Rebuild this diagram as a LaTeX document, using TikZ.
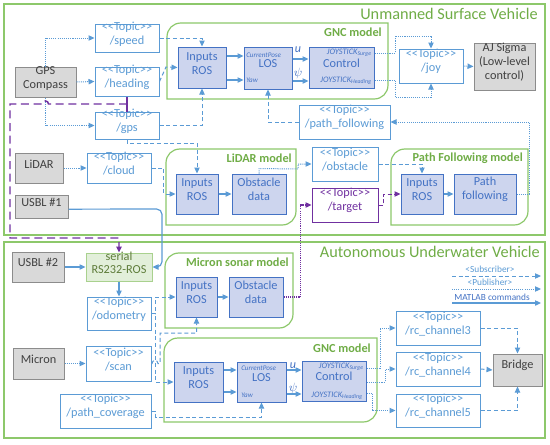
\documentclass[tikz,border=0pt]{standalone}
\usepackage{fontspec}
\setmainfont{Carlito}[Ligatures=TeXOff]
\usetikzlibrary{arrows.meta,fit}
\definecolor{lblue}{HTML}{5B9BD5}
\definecolor{pblue}{HTML}{4472C4}
\definecolor{pfill}{HTML}{CDD5EE}
\definecolor{gfill}{HTML}{D9D9D9}
\definecolor{gline}{HTML}{8C8C8C}
\definecolor{gtext}{HTML}{404040}
\definecolor{fgreen}{HTML}{8DC86B}
\definecolor{tgreen}{HTML}{70AD47}
\definecolor{sfill}{HTML}{E2EFDA}
\definecolor{sline}{HTML}{A9D18E}
\definecolor{stext}{HTML}{5E7C3A}
\definecolor{purp}{HTML}{7030A0}
\newcommand\rdframe[4]{\draw[mframe] (#1,#4) -- (#1,{#2+14}) .. controls (#1,{#2+6}) and ({#1+6},#2) .. ({#1+14},#2) -- (#3,#2) -- (#3,{#4-14}) .. controls (#3,{#4-6}) and ({#3-6},#4) .. ({#3-14},#4) -- cycle;}
\tikzset{
  mainfont/.style={font=\fontsize{9.2}{10.5}\selectfont},
  bx/.style={inner sep=0pt, align=center, line width=0.75pt, mainfont},
  topic/.style={bx, draw=lblue, fill=white, text=lblue},
  ptopic/.style={bx, draw=purp, fill=white, text=purp},
  proc/.style={bx, draw=pblue, fill=pfill, text=pblue},
  dev/.style={bx, draw=gline, fill=gfill, text=gtext},
  serialbox/.style={bx, draw=sline, fill=sfill, text=stext, font=\fontsize{9.2}{9.8}\selectfont},
  oframe/.style={draw=fgreen, line width=0.9pt},
  mframe/.style={draw=fgreen, line width=0.9pt},
  ttl/.style={inner sep=0pt, text=tgreen, font=\fontsize{12.2}{14}\selectfont},
  mttl/.style={inner sep=0pt, text=tgreen, font=\bfseries\fontsize{9.2}{11}\selectfont},
  jlab/.style={inner sep=0pt, text=pblue, font=\itshape\fontsize{6.3}{7}\selectfont},
  slab/.style={inner sep=0pt, text=pblue, font=\itshape\fontsize{5.3}{6}\selectfont},
  vlab/.style={inner sep=0pt, text=pblue, font=\itshape\fontsize{9}{10}\selectfont},
  leg/.style={inner sep=0pt, text=lblue, font=\fontsize{7}{8}\selectfont},
  arr/.style={-{Triangle[length=4.5pt,width=4pt]}},
  sub/.style={draw=lblue, line width=0.75pt, dash pattern=on 3pt off 2pt, arr},
  pub/.style={draw=lblue, line width=0.75pt, dash pattern=on 0.8pt off 0.8pt, arr},
  cmd/.style={draw=lblue, line width=0.9pt, arr},
  psub/.style={sub, draw=purp},
  ppub/.style={pub, draw=purp, line width=0.9pt},
  pdash/.style={draw=purp, line width=1.1pt, dash pattern=on 6pt off 3.5pt, arr},
}
\begin{document}
\begin{tikzpicture}[x=0.75pt,y=-0.75pt]
\fill[white] (0,0) rectangle (550,444);
\useasboundingbox (0,0) rectangle (550,444);

% frames
\draw[oframe] (4,4) rectangle (545,235);
\draw[oframe] (4,242) rectangle (545,438);
\rdframe{167}{23}{388}{99}
\rdframe{166}{149}{296}{225}
\rdframe{391}{149}{528}{225}
\rdframe{165}{253}{293}{328}
\rdframe{164}{338}{377}{422}

% titles
\node[ttl, anchor=east] (usvt) at (538,14) {Unmanned Surface Vehicle};
\node[ttl, anchor=east] (auvt) at (540,252) {Autonomous Underwater Vehicle};
\node[mttl, anchor=east] (gnc1t) at (382,32) {GNC model};
\node[mttl, anchor=east] (lidt) at (292,158) {LiDAR model};
\node[mttl, anchor=east] (pft) at (523,158) {Path Following model};
\node[mttl, anchor=east] (mict) at (289,262) {Micron sonar model};
\node[mttl, anchor=east] (gnc2t) at (371,348) {GNC model};

% USV nodes
\node[dev, fit={(15,67)(76,97)}] (gpsc) {GPS\\Compass};
\node[topic, fit={(95,24)(159,52)}] (speed) {<<Topic>>\\/speed};
\node[topic, fit={(95,67)(159,96)}] (heading) {<<Topic>>\\/heading};
\node[topic, fit={(95,112)(159,139)}] (gps) {<<Topic>>\\/gps};
\node[proc, fit={(178,47)(226,88)}] (in1) {Inputs\\ROS};
\node[proc, fit={(244,47)(292,89)}] (los1) {LOS};
\node[proc, fit={(309,47)(374,88)}] (ctl1) {Control};
\node[topic, fit={(399,49)(463,83)}] (joy) {<<Topic>>\\/joy};
\node[dev, fit={(474,43)(535,90)}] (ajs) {AJ Sigma\\(Low-level\\control)};
\node[topic, fit={(299,105)(390,139)}] (pathf) {<<Topic>>\\/path\_following};
\node[dev, fit={(15,153)(63,183)}] (lidar) {LiDAR};
\node[topic, fit={(87,153)(151,183)}] (cloud) {<<Topic>>\\/cloud};
\node[dev, fit={(15,195)(68,218)}] (usbl1) {USBL \#1};
\node[proc, fit={(176,174)(218,214)}] (in2) {Inputs\\ROS};
\node[proc, fit={(232,174)(286,214)}] (obs2) {Obstacle\\data};
\node[topic, fit={(312,147)(378,181)}] (obstacle) {<<Topic>>\\/obstacle};
\node[ptopic, fit={(312,188)(378,222)}] (target) {<<Topic>>\\/target};
\node[proc, fit={(401,174)(443,214)}] (in3) {Inputs\\ROS};
\node[proc, fit={(454,174)(516,214)}] (pfol) {Path\\following};

% LOS / control labels USV
\node[slab, anchor=west] (l1cp) at (246,55) {CurrentPose};
\node[slab, anchor=west] (l1yw) at (246,80) {Yaw};
\node[jlab, anchor=east] (c1s) at (372,53) {JOYSTICK\textsubscript{Surge}};
\node[jlab, anchor=east] (c1h) at (372,81) {JOYSTICK\textsubscript{Heading}};
\node[vlab] (u1) at (298,50) {u};
\node[vlab] (p1) at (298,73) {$\psi$};

% AUV nodes
\node[dev, fit={(12,252)(64,282)}] (usbl2) {USBL \#2};
\node[serialbox, fit={(86,253)(152,281)}] (serial) {serial\\RS232-ROS};
\node[topic, fit={(87,297)(151,330)}] (odom) {<<Topic>>\\/odometry};
\node[proc, fit={(176,277)(217,317)}] (in4) {Inputs\\ROS};
\node[proc, fit={(229,277)(283,317)}] (obs4) {Obstacle\\data};
\node[dev, fit={(13,348)(64,379)}] (micron) {Micron};
\node[topic, fit={(86,346)(151,381)}] (scan) {<<Topic>>\\/scan};
\node[topic, fit={(60,394)(151,428)}] (pcov) {<<Topic>>\\/path\_coverage};
\node[proc, fit={(174,362)(223,402)}] (in5) {Inputs\\ROS};
\node[proc, fit={(237,362)(286,402)}] (los5) {LOS};
\node[proc, fit={(302,361)(366,401)}] (ctl5) {Control};
\node[topic, fit={(396,311)(480,345)}] (rc3) {<<Topic>>\\/rc\_channel3};
\node[topic, fit={(396,352)(480,386)}] (rc4) {<<Topic>>\\/rc\_channel4};
\node[topic, fit={(396,394)(480,427)}] (rc5) {<<Topic>>\\/rc\_channel5};
\node[dev, fit={(493,354)(542,386)}] (bridge) {Bridge};

% LOS / control labels AUV
\node[slab, anchor=west] (l5cp) at (241,368.5) {CurrentPose};
\node[slab, anchor=west] (l5yw) at (241,395) {Yaw};
\node[jlab, anchor=east] (c5s) at (364,367) {JOYSTICK\textsubscript{Surge}};
\node[jlab, anchor=east] (c5h) at (363,396) {JOYSTICK\textsubscript{Heading}};
\node[vlab] (u5) at (293,366) {u};
\node[vlab] (p5) at (293,388) {$\psi$};

% legend
\node[leg] (lg1) at (490,269) {<Subscriber>};
\node[leg] (lg2) at (490,282) {<Publisher>};
\node[leg, text=pblue] (lg3) at (492,297) {MATLAB commands};
\coordinate (la1) at (452,276); \coordinate (lb1) at (541,276);
\coordinate (la2) at (452,289); \coordinate (lb2) at (541,289);
\coordinate (la3) at (452,303); \coordinate (lb3) at (541,303);
\draw[sub] (la1) -- (lb1);
\draw[pub] (la2) -- (lb2);
\draw[cmd] (la3) -- (lb3);

% USV connectors
\draw[pub] (gpsc.north) |- (speed.west);
\draw[pub] (gpsc.east) -- (heading.west);
\draw[pub] (gpsc.south) |- (gps.west);
\draw[sub] (speed.east) -| (in1.north);
\draw[sub] (heading.east) -- (166,67) -- (in1.west);
\draw[sub] (gps.east) -| (in1.south);
\draw[cmd] (in1.east |- 0,56) -- (los1.west |- 0,56);
\draw[cmd] (in1.east |- 0,80) -- (los1.west |- 0,80);
\draw[cmd] (los1.east |- 0,59) -- (ctl1.west |- 0,59);
\draw[cmd] (los1.east |- 0,81) -- (ctl1.west |- 0,81);
\draw[pub] (ctl1.east |- 0,53) -- (395,53) |- (joy.north |- 0,36) -- (joy.north);
\draw[pub] (ctl1.east |- 0,80) -- (395,80) |- (joy.south |- 0,97) -- (joy.south);
\draw[pub] (joy.east) -- (ajs.west);
\draw[sub] (gps.south) |- (in2.north |- 0,143) -- (in2.north);
\draw[pub] (lidar.east) -- (cloud.west);
\draw[sub] (cloud.east) -- ++(12,0) |- (in2.west);
\draw[cmd] (in2) -- (obs2);
\draw[pub] (obs2.north) -- ++(0,-5) -- (298,169) |- (obstacle.west);
\draw[sub] (obstacle.east) -| (in3.north);
\draw[psub] (target.east) -- ++(5,0) |- (in3.west);
\draw[cmd] (in3) -- (pfol);
\draw[pub] (pfol.east) -- ++(13,0) |- (pathf.east);
\draw[sub] (pathf.west) -| (los1.south);
\draw[cmd, rounded corners=4pt] ([yshift=-2pt]usbl1.east) -- (162,209) |- (serial.east);
\draw[draw=purp, line width=1pt] (heading.south) -- (gps.north);
\draw[pdash] (heading.south |- 0,104) -- (48.5,104) .. controls (48.5,100) and (42.5,100) .. (42.5,104) -- (10,104) -- (10,238) -| (serial.north);
\draw[ppub] (obs4.east) -- ++(17,0) |- (target.west);

% AUV connectors
\draw[cmd] (usbl2.east) -- (serial.west);
\draw[cmd] (serial.south) -- (odom.north);
\draw[cmd] (in4) -- (obs4);
\draw[sub] (odom.east) -- ++(4,0) |- (in4.west);
\draw[sub] (odom.east) -- ++(4,0) |- (in5.west);
\draw[sub] (scan.east) -- (152,363.5) .. controls (152,359.5) and (158,359.5) .. (158,363.5) -- (160,363.5) |- (in4.south |- 0,333) -- (in4.south);
\draw[pub] (micron.east) -- (scan.west);
\draw[sub] (pcov.east) -- ++(4,0) |- (los5.south |- 0,417) -- (los5.south);
\draw[cmd] (in5.east |- 0,370) -- (los5.west |- 0,370);
\draw[cmd] (in5.east |- 0,392) -- (los5.west |- 0,392);
\draw[cmd] (los5.east |- 0,370) -- (ctl5.west |- 0,370);
\draw[cmd] (los5.east |- 0,394) -- (ctl5.west |- 0,394);
\draw[pub] (ctl5.east |- 0,368) -- (380,368) |- (rc3.west);
\draw[pub] (ctl5.east |- 0,382) -- (385,382) |- (rc4.west);
\draw[pub] (ctl5.east |- 0,393) -- (372,393) |- (rc5.west);
\draw[sub] (rc3.east) -| (bridge.north);
\draw[sub] (rc4.east) -- (bridge.west);
\draw[sub] (rc5.east) -| (bridge.south);
\end{tikzpicture}
\end{document}
